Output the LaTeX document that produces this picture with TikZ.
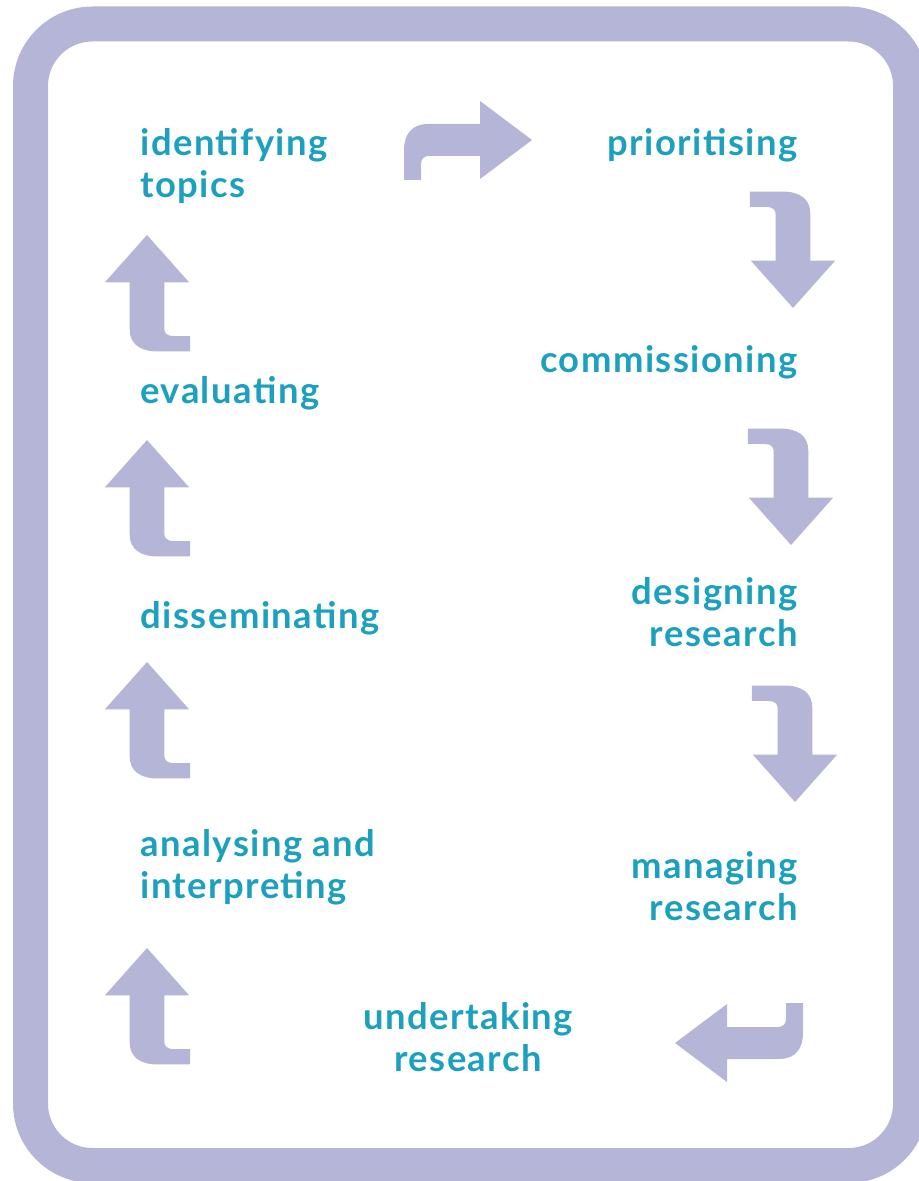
\documentclass[tikz,border=0pt]{standalone}
\usepackage{fontspec}
\setmainfont{Lato}[LetterSpace=4]
\definecolor{lavender}{RGB}{181,181,216}
\definecolor{tealtext}{RGB}{27,160,192}
\tikzset{
  stage/.style={text=tealtext, inner sep=0pt, font=\bfseries\fontsize{18.2}{21}\selectfont},
  frame/.style={draw=lavender, line width=17.5pt, rounded corners=31pt},
  upright/.style={xscale=0.91, yscale=1.08},
  hookarrow/.pic={
    \fill[lavender] (0,0) -- (-52,-39) -- (-52,-16) -- (-104,-16)
      .. controls (-120,-16) and (-128,-6) .. (-128,10) -- (-128,40) -- (-111,40) -- (-111,24)
      .. controls (-111,19) and (-108,16) .. (-103,16) -- (-52,16) -- (-52,39) -- cycle;
  }
}
\begin{document}
\begin{tikzpicture}[x=0.5pt, y=-0.5pt]
  \useasboundingbox (0,0) rectangle (919,1181);
\draw [frame] (30.5,24) rectangle (910.5,1165.5);

\path (532,140) pic (a1) {hookarrow};
\path (793,308) pic (a2) [rotate=-90, upright] {hookarrow};
\path (791,545) pic (a3) [rotate=-90, upright] {hookarrow};
\path (795,802) pic (a4) [rotate=-90, upright] {hookarrow};
\path (675,1043) pic (a5) [rotate=180] {hookarrow};
\path (147,948) pic (a6) [rotate=90, upright] {hookarrow};
\path (147,662) pic (a7) [rotate=90, upright] {hookarrow};
\path (147,440) pic (a8) [rotate=90, upright] {hookarrow};
\path (147,235) pic (a9) [rotate=90, upright] {hookarrow};

\node [stage, anchor=base west, align=left] (identify) at (140,198) {identifying\\topics};
\node [stage, anchor=base east] (prioritise) at (798,156) {prioritising};
\node [stage, anchor=base east] (commission) at (798,373) {commissioning};
\node [stage, anchor=base east, align=right] (design) at (798,646) {designing\\research};
\node [stage, anchor=base east, align=right] (manage) at (798,920) {managing\\research};
\node [stage, anchor=base, align=center] (undertake) at (468,1071) {undertaking\\research};
\node [stage, anchor=base west, align=left] (analyse) at (140,898) {analysing and\\interpreting};
\node [stage, anchor=base west] (disseminate) at (140,628) {disseminating};
\node [stage, anchor=base west] (evaluate) at (140,403) {evaluating};
\end{tikzpicture}
\end{document}
